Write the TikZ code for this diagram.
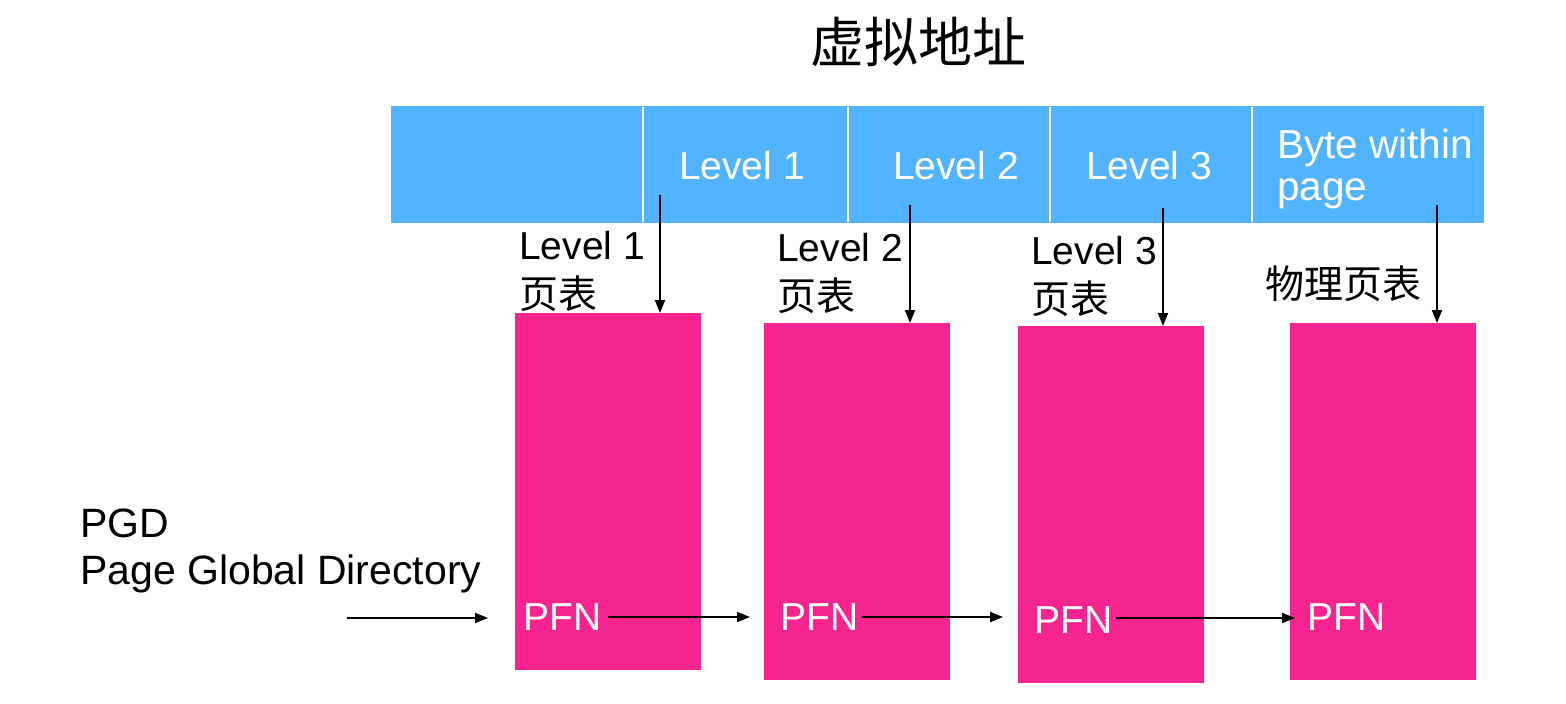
\documentclass[tikz,border=0pt]{standalone}
\usepackage{fontspec}
\setmainfont{Liberation Sans}
\newfontfamily\cjk{Noto Sans CJK SC}
\usetikzlibrary{arrows.meta}
\definecolor{barblue}{RGB}{82,180,255}
\definecolor{tabpink}{RGB}{245,36,143}
\begin{document}
\begin{tikzpicture}[x=1pt,y=-1pt,
  txt/.style={font=\fontsize{39}{49}\selectfont, inner sep=0pt, align=left},
  wtxt/.style={txt, text=white},
  tbl/.style={fill=tabpink, draw=none, inner sep=0pt, anchor=north west, minimum width=186pt, minimum height=357pt},
  arr/.style={line width=1.9pt, -{Triangle[length=13pt,width=10pt]}},
  divider/.style={white, line width=2pt}]
\useasboundingbox (0,0) rectangle (1566,704);

% title
\node[font=\cjk\fontsize{54}{60}\selectfont, inner sep=0pt] (title) at (918,42) {虚拟地址};

% virtual address bar
\node[fill=barblue, inner sep=0pt, anchor=north west, minimum width=1093pt, minimum height=117pt] (bar) at (391,106) {};
\draw[divider] (643,107) -- (643,222);
\draw[divider] (848,107) -- (848,222);
\draw[divider] (1050,107) -- (1050,222);
\draw[divider] (1252,107) -- (1252,222);
\node[wtxt] (f1) at (742,166) {Level 1};
\node[wtxt] (f2) at (956,166) {Level 2};
\node[wtxt] (f3) at (1149,166) {Level 3};
\node[wtxt, font=\fontsize{40.5}{42}\selectfont, anchor=north west] (f4) at (1277,129) {Byte within\\page};

% tables
\node[tbl] (t1) at (515,313) {};
\node[tbl] (t2) at (764,323) {};
\node[tbl] (t3) at (1018,326) {};
\node[tbl] (t4) at (1290,323) {};

% table labels
\node[txt, anchor=north west] (l1) at (519,231) {Level 1\\{\cjk 页表}};
\node[txt, anchor=north west] (l2) at (777,233) {Level 2\\{\cjk 页表}};
\node[txt, anchor=north west] (l3) at (1031,236) {Level 3\\{\cjk 页表}};
\node[txt, anchor=west, font=\cjk\fontsize{39}{49}\selectfont] (l4) at (1265,284) {物理页表};

% down arrows
\coordinate (s1) at (660,195);
\coordinate (s2) at (910,205);
\coordinate (s3) at (1163,208);
\coordinate (s4) at (1437,205);
\draw[arr] (s1) -- (s1 |- t1.north);
\draw[arr] (s2) -- (s2 |- t2.north);
\draw[arr] (s3) -- (s3 |- t3.north);
\draw[arr] (s4) -- (s4 |- t4.north);

% PFN
\node[wtxt, anchor=west] (p1) at (523,617) {PFN};
\node[wtxt, anchor=west] (p2) at (780,617) {PFN};
\node[wtxt, anchor=west] (p3) at (1034,620) {PFN};
\node[wtxt, anchor=west] (p4) at (1307,617) {PFN};

% PGD
\node[txt, font=\fontsize{41}{47}\selectfont, anchor=north west] (pgd) at (80,509) {PGD\\Page Global Directory};
\coordinate (in) at (347,618);
\draw[arr, shorten >=35pt] (in) -- (in -| p1.west);

\draw[arr, shorten <=7pt, shorten >=30pt] (p1.east) -- (p1.east -| p2.west);
\draw[arr, shorten <=4pt, shorten >=31pt] (p2.east) -- (p2.east -| p3.west);
\draw[arr, shorten <=4pt, shorten >=12pt] ([yshift=2pt]p3.east) -- ([yshift=2pt]p3.east -| p4.west);
\end{tikzpicture}
\end{document}
